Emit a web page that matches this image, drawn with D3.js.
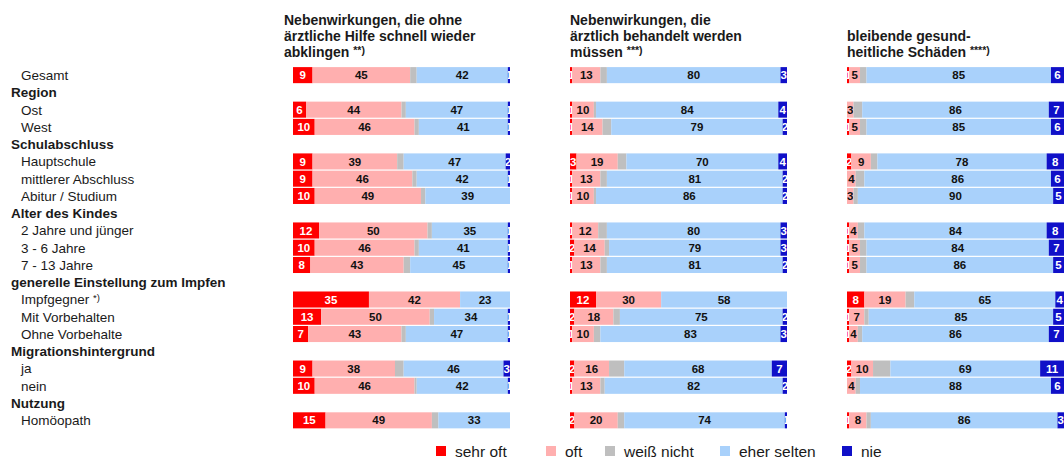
<!DOCTYPE html>
<html>
<head>
<meta charset="utf-8">
<script src="https://cdn.jsdelivr.net/npm/d3@7"></script>
<style>
  body { margin: 0; background: #fff; }
  svg { display: block; font-family: "Liberation Sans", Arial, sans-serif; }
</style>
</head>
<body>
<div id="chart"></div>
<script>
// answer categories, left to right
const categories = ['sehr oft', 'oft', 'weiß nicht', 'eher selten', 'nie'];
const colors = ['#ff0000', '#ffafaf', '#bfbfbf', '#a9d1fb', '#1010c8'];

// row labels: [text, kind, superscript]
const rowLabels = [
  ['Gesamt', 'row'],
  ['Region', 'head'],
  ['Ost', 'row'],
  ['West', 'row'],
  ['Schulabschluss', 'head'],
  ['Hauptschule', 'row'],
  ['mittlerer Abschluss', 'row'],
  ['Abitur / Studium', 'row'],
  ['Alter des Kindes', 'head'],
  ['2 Jahre und jünger', 'row'],
  ['3 - 6 Jahre', 'row'],
  ['7 - 13 Jahre', 'row'],
  ['generelle Einstellung zum Impfen', 'head'],
  ['Impfgegner', 'row', '*)'],
  ['Mit Vorbehalten', 'row'],
  ['Ohne Vorbehalte', 'row'],
  ['Migrationshintergrund', 'head'],
  ['ja', 'row'],
  ['nein', 'row'],
  ['Nutzung', 'head'],
  ['Homöopath', 'row']
];

// values per row: sehr oft, oft, weiß nicht, eher selten, nie
const ohneAerztlicheHilfe = [
  [9, 45, 3, 42, 1],
  [6, 44, 2, 47, 1],
  [10, 46, 2, 41, 1],
  [9, 39, 3, 47, 2],
  [9, 46, 2, 42, 1],
  [10, 49, 2, 39, 0],
  [12, 50, 2, 35, 1],
  [10, 46, 2, 41, 1],
  [8, 43, 3, 45, 1],
  [35, 42, 0, 23, 0],
  [13, 50, 2, 34, 1],
  [7, 43, 2, 47, 1],
  [9, 38, 4, 46, 3],
  [10, 46, 1, 42, 1],
  [15, 49, 3, 33, 0]
];
const aerztlichBehandelt = [
  [1, 13, 3, 80, 3],
  [1, 10, 1, 84, 4],
  [1, 14, 4, 79, 2],
  [3, 19, 4, 70, 4],
  [1, 13, 3, 81, 2],
  [1, 10, 1, 86, 2],
  [1, 12, 4, 80, 3],
  [2, 14, 2, 79, 3],
  [1, 13, 3, 81, 2],
  [12, 30, 0, 58, 0],
  [2, 18, 3, 75, 2],
  [1, 10, 3, 83, 3],
  [2, 16, 7, 68, 7],
  [1, 13, 2, 82, 2],
  [2, 20, 3, 74, 1]
];
const bleibendeSchaeden = [
  [1, 5, 3, 85, 6],
  [0, 3, 4, 86, 7],
  [1, 5, 3, 85, 6],
  [2, 9, 3, 78, 8],
  [0, 4, 4, 86, 6],
  [0, 3, 2, 90, 5],
  [1, 4, 3, 84, 8],
  [1, 5, 3, 84, 7],
  [1, 5, 3, 86, 5],
  [8, 19, 4, 65, 4],
  [1, 7, 2, 85, 5],
  [1, 4, 2, 86, 7],
  [2, 10, 8, 69, 11],
  [0, 4, 2, 88, 6],
  [1, 8, 2, 86, 3]
];

const panelTitles = [
  ['Nebenwirkungen, die ohne', 'ärztliche Hilfe schnell wieder', 'abklingen'],
  ['Nebenwirkungen, die', 'ärztlich behandelt werden', 'müssen'],
  ['bleibende gesund-', 'heitliche Schäden']
];
const panelNotes = ['**)', '***)', '****)'];
const panelData = [ohneAerztlicheHilfe, aerztlichBehandelt, bleibendeSchaeden];

// ---------- layout ----------
const width = 1064, height = 459;
const svg = d3.select('#chart').append('svg')
  .attr('width', width)
  .attr('height', height);

const y = d3.scaleBand()
  .domain(d3.range(rowLabels.length))
  .range([66.5, 66.5 + 17.26 * rowLabels.length])
  .paddingInner(0.07)
  .paddingOuter(0.035);

const x = d3.scaleLinear().domain([0, 100]).range([0, 217]);
const panelX = d3.scaleLinear().domain([0, 1]).range([293, 570]);
const titleShift = [-9, 0, 0];
const labelColor = ['#fff', '#111', '#111', '#111', '#fff'];

// map data rows to slot indices
const rowSlots = rowLabels.map((d, i) => i).filter(i => rowLabels[i][1] === 'row');

// row labels
const lab = svg.append('g').attr('class', 'labels');
rowLabels.forEach((d, i) => {
  const t = lab.append('text')
    .attr('x', d[1] === 'head' ? 11 : 21)
    .attr('y', y(i) + y.bandwidth() / 2)
    .attr('dy', '0.36em')
    .style('font-size', '13.5px')
    .style('font-weight', d[1] === 'head' ? 'bold' : 'normal')
    .style('fill', '#1a1a1a')
    .text(d[0]);
  if (d[2]) {
    t.append('tspan').text(' ');
    t.append('tspan')
      .attr('dy', '-0.4em')
      .style('font-size', '9.5px')
      .text(d[2]);
  }
});

const stack = d3.stack().keys(d3.range(categories.length));
let clipId = 0;

panelData.forEach((data, p) => {
  const g = svg.append('g')
    .attr('class', 'panel')
    .attr('transform', `translate(${panelX(p)},0)`);

  // title, bottom aligned
  const lines = panelTitles[p];
  const title = g.append('g')
    .attr('transform', `translate(${titleShift[p]},0)`);
  lines.forEach((line, k) => {
    const t = title.append('text')
      .attr('x', 0)
      .attr('y', 56.5 - (lines.length - 1 - k) * 16)
      .style('font-size', '14px')
      .style('font-weight', 'bold')
      .style('fill', '#1a1a1a')
      .text(line);
    if (k === lines.length - 1) {
      t.append('tspan').text(' ');
      t.append('tspan')
        .attr('dy', '-3')
        .style('font-size', '10.5px')
        .text(panelNotes[p]);
    }
  });

  const series = stack(data);
  const layer = g.selectAll('.layer')
    .data(series)
    .enter().append('g')
    .attr('class', 'layer');

  layer.each(function(s) {
    const k = s.key;
    const segs = d3.select(this).selectAll('g')
      .data(s.map((d, r) => ({ x0: d[0], x1: d[1], v: data[r][k], slot: rowSlots[r] })))
      .enter().append('g');

    segs.append('rect')
      .attr('x', d => x(d.x0))
      .attr('y', d => y(d.slot))
      .attr('width', d => x(d.x1) - x(d.x0))
      .attr('height', y.bandwidth())
      .style('fill', colors[k]);

    if (k === 2) return; // no labels for "weiß nicht"

    segs.filter(d => d.v > 0).each(function(d) {
      const id = 'c' + (clipId++);
      const sg = d3.select(this);
      sg.append('clipPath').attr('id', id)
        .append('rect')
        .attr('x', x(d.x0))
        .attr('y', y(d.slot))
        .attr('width', x(d.x1) - x(d.x0))
        .attr('height', y.bandwidth());
      sg.append('text')
        .attr('clip-path', `url(#${id})`)
        .attr('x', (x(d.x0) + x(d.x1)) / 2)
        .attr('y', y(d.slot) + y.bandwidth() / 2)
        .attr('dy', '0.36em')
        .attr('text-anchor', 'middle')
        .style('font-size', '11.5px')
        .style('font-weight', 'bold')
        .style('fill', labelColor[k])
        .text(d.v);
    });
  });
});

// legend
const legendX = [436, 546, 605, 720, 842];
const legend = svg.append('g').attr('class', 'legend');
categories.forEach((c, i) => {
  legend.append('rect')
    .attr('x', legendX[i])
    .attr('y', 446)
    .attr('width', 10)
    .attr('height', 10)
    .style('fill', colors[i]);
  legend.append('text')
    .attr('x', legendX[i] + 19)
    .attr('y', 456.5)
    .style('font-size', '15.5px')
    .style('fill', '#1a1a1a')
    .text(c);
});
</script>
</body>
</html>
